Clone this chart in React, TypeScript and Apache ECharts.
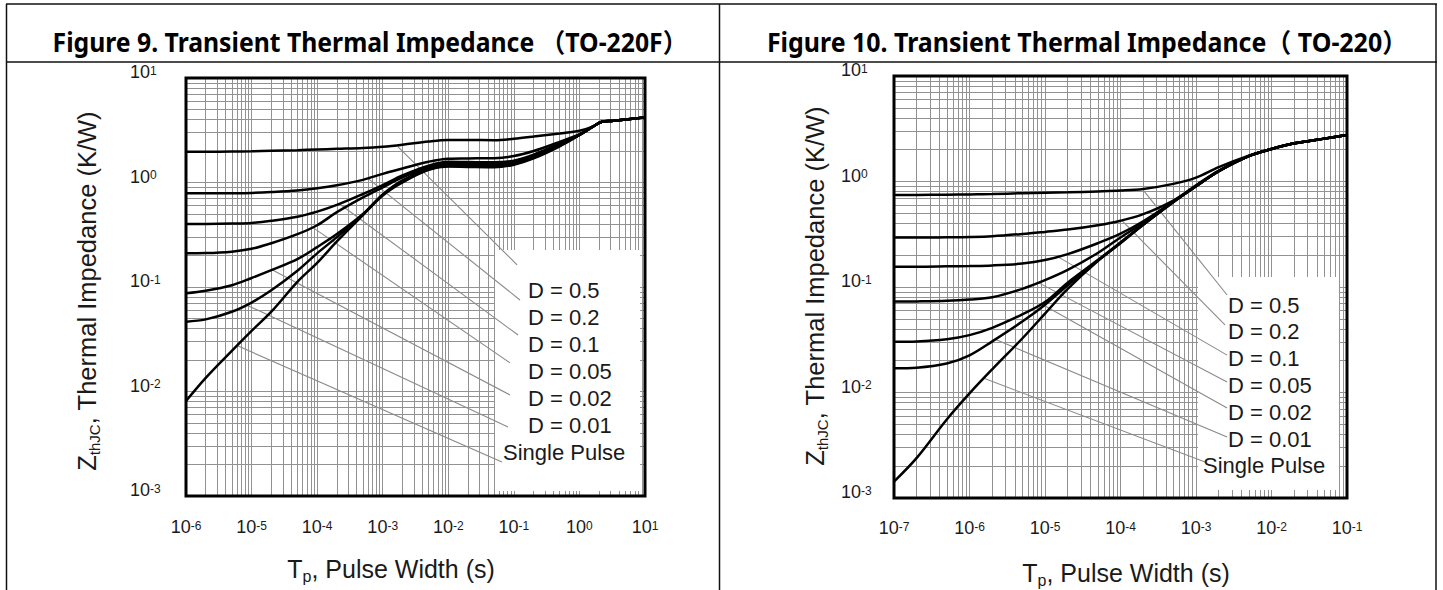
import React, { useEffect, useRef } from "react";
import * as echarts from "echarts";

// ===== Figure 9: Transient Thermal Impedance (TO-220F) =====
const tpLeft = [1e-6, 2e-6, 5e-6, 1e-5, 2e-5, 5e-5, 1e-4, 2e-4, 5e-4, 1e-3, 2e-3, 5e-3, 1e-2, 2e-2, 5e-2, 1e-1, 2e-1, 5e-1, 1, 1.6, 2.2, 3.3, 10];
const zthLeftD05 = [1.97, 1.97, 1.98, 1.99, 2.01, 2.04, 2.07, 2.1, 2.14, 2.2, 2.3, 2.47, 2.55, 2.55, 2.54, 2.62, 2.75, 2.95, 3.13, 3.42, 3.82, 3.9, 4.2];
const zthLeftD02 = [0.787, 0.788, 0.79, 0.795, 0.81, 0.84, 0.88, 0.94, 1.06, 1.21, 1.36, 1.58, 1.69, 1.7, 1.71, 1.79, 2.0, 2.45, 2.91, 3.42, 3.82, 3.9, 4.2];
const zthLeftD01 = [0.4, 0.401, 0.405, 0.41, 0.43, 0.47, 0.526, 0.61, 0.776, 0.946, 1.17, 1.45, 1.58, 1.57, 1.56, 1.62, 1.85, 2.35, 2.85, 3.42, 3.82, 3.9, 4.2];
const zthLeftD005 = [0.21, 0.211, 0.218, 0.232, 0.262, 0.32, 0.39, 0.52, 0.72, 0.9, 1.12, 1.4, 1.52, 1.51, 1.5, 1.56, 1.8, 2.3, 2.85, 3.42, 3.82, 3.9, 4.2];
const zthLeftD002 = [0.087, 0.092, 0.104, 0.122, 0.145, 0.185, 0.241, 0.321, 0.5, 0.77, 1.05, 1.35, 1.47, 1.46, 1.46, 1.53, 1.75, 2.28, 2.85, 3.42, 3.82, 3.9, 4.2];
const zthLeftD001 = [0.0466, 0.049, 0.058, 0.071, 0.093, 0.143, 0.21, 0.3, 0.495, 0.76, 1.03, 1.33, 1.44, 1.43, 1.43, 1.5, 1.72, 2.25, 2.85, 3.42, 3.82, 3.9, 4.2];
const zthLeftSingle = [0.0081, 0.0135, 0.0245, 0.038, 0.058, 0.112, 0.17, 0.273, 0.488, 0.75, 1.0, 1.32, 1.42, 1.41, 1.4, 1.48, 1.7, 2.22, 2.85, 3.42, 3.82, 3.9, 4.2];
// leader lines: [from curve point] -> [to label]  (t, Zth)
const leadersLeft = [
  [[1.7e-3, 2.2], [0.112, 0.163]],
  [[6e-4, 1.09], [0.124, 0.0751]],
  [[2.23e-4, 0.62], [0.116, 0.0347]],
  [[8.65e-5, 0.37], [0.0873, 0.0188]],
  [[2.05e-5, 0.146], [0.0873, 0.00927]],
  [[8.5e-6, 0.067], [0.0815, 0.00457]],
  [[6e-6, 0.0275], [0.0659, 0.00211]],
];
const xRangeLeft = [1e-6, 10];

// ===== Figure 10: Transient Thermal Impedance (TO-220) =====
const tpRight = [1e-7, 2e-7, 5e-7, 1e-6, 2e-6, 5e-6, 1e-5, 2e-5, 5e-5, 1e-4, 2e-4, 5e-4, 1e-3, 2e-3, 5e-3, 1e-2, 2e-2, 5e-2, 1e-1];
const zthRightD05 = [0.745, 0.746, 0.75, 0.755, 0.76, 0.775, 0.784, 0.79, 0.805, 0.82, 0.85, 0.95, 1.09, 1.37, 1.76, 2.03, 2.3, 2.55, 2.76];
const zthRightD02 = [0.294, 0.294, 0.296, 0.298, 0.303, 0.318, 0.333, 0.35, 0.385, 0.425, 0.49, 0.66, 0.92, 1.27, 1.74, 2.03, 2.3, 2.55, 2.76];
const zthRightD01 = [0.156, 0.156, 0.157, 0.158, 0.16, 0.167, 0.18, 0.205, 0.26, 0.32, 0.42, 0.645, 0.905, 1.255, 1.74, 2.03, 2.3, 2.55, 2.76];
const zthRightD005 = [0.0727, 0.073, 0.074, 0.076, 0.08, 0.096, 0.116, 0.145, 0.21, 0.295, 0.405, 0.642, 0.9, 1.25, 1.74, 2.03, 2.3, 2.55, 2.76];
const zthRightD002 = [0.0303, 0.0305, 0.032, 0.035, 0.041, 0.055, 0.072, 0.11, 0.18, 0.265, 0.392, 0.64, 0.9, 1.25, 1.74, 2.03, 2.3, 2.55, 2.76];
const zthRightD001 = [0.017, 0.0172, 0.0188, 0.0225, 0.0305, 0.047, 0.068, 0.104, 0.178, 0.262, 0.39, 0.64, 0.9, 1.25, 1.74, 2.03, 2.3, 2.55, 2.76];
const zthRightSingle = [0.00143, 0.0024, 0.00555, 0.0098, 0.0166, 0.0325, 0.056, 0.096, 0.176, 0.26, 0.388, 0.635, 0.9, 1.25, 1.74, 2.03, 2.3, 2.55, 2.76];
const leadersRight = [
  [[2.0e-4, 0.83], [2.58e-3, 0.084]],
  [[1.04e-4, 0.428], [2.42e-3, 0.0437]],
  [[1.49e-5, 0.193], [2.58e-3, 0.0226]],
  [[8.15e-6, 0.11], [2.58e-3, 0.0126]],
  [[9e-6, 0.069], [2.58e-3, 0.00713]],
  [[2.18e-6, 0.032], [2.58e-3, 0.00379]],
  [[1.52e-6, 0.0137], [1.32e-3, 0.00219]],
];
const xRangeRight = [1e-7, 1e-1];

const yRange = [1e-3, 10];
const curveLabels = ["D = 0.5", "D = 0.2", "D = 0.1", "D = 0.05", "D = 0.02", "D = 0.01", "Single Pulse"];
const titleLeft = "Figure 9. Transient Thermal Impedance （TO-220F）";
const titleRight = "Figure 10. Transient Thermal Impedance（ TO-220）";
const xAxisTitle = "{a|T}{p|p}{a|, Pulse Width (s)}";
const yAxisTitle = "{a|Z}{s|thJC}{a|, Thermal Impedance (K/W)}";

// ===== layout / style =====
const FONT = "'Liberation Sans', Arial, Helvetica, sans-serif";
const TITLE_FONT = "'Noto Sans', 'Noto Sans CJK SC', sans-serif";
const GRID_L = { left: 186, top: 78, width: 459, height: 418 };
const GRID_R = { left: 894, top: 76, width: 453, height: 422 };
const TEXT = "#1a1a1a";

function logGridValues(min: number, max: number) {
  const out: number[] = [];
  const k0 = Math.round(Math.log10(min));
  const k1 = Math.round(Math.log10(max));
  for (let k = k0; k < k1; k++) {
    for (let m = 1; m <= 9; m++) out.push(m * Math.pow(10, k));
  }
  out.push(max);
  return out;
}

const pow10Label = (v: number) => {
  const e = Math.round(Math.log10(v));
  return `{b|10}{s|${e}}`;
};

const labelRich = {
  b: { fontSize: 18, fontFamily: FONT, color: TEXT, lineHeight: 22 },
  s: { fontSize: 12, fontFamily: FONT, color: TEXT, padding: [0, 0, 3, 0] },
};

function makeXAxis(idx: number, range: number[], margin: number) {
  return {
    type: "log",
    logBase: 10,
    gridIndex: idx,
    min: range[0],
    max: range[1],
    axisLine: { show: false },
    axisTick: { show: false },
    splitLine: { show: false },
    axisLabel: {
      margin,
      formatter: pow10Label,
      rich: labelRich,
      fontSize: 18,
      fontFamily: FONT,
      color: TEXT,
      showMinLabel: true,
      showMaxLabel: true,
    },
  };
}
function makeYAxis(idx: number, margin: number) {
  return {
    type: "log",
    logBase: 10,
    gridIndex: idx,
    min: yRange[0],
    max: yRange[1],
    axisLine: { show: false },
    axisTick: { show: false },
    splitLine: { show: false },
    axisLabel: {
      margin,
      align: "left",
      padding: [0, 0, 12, 0],
      formatter: pow10Label,
      rich: labelRich,
      fontSize: 18,
      fontFamily: FONT,
      color: TEXT,
      showMinLabel: true,
      showMaxLabel: true,
    },
  };
}

function makeCurves(t: number[], zs: number[][], idx: number, xr: number[]) {
  const xs = logGridValues(xr[0], xr[1]);
  const ys = logGridValues(yRange[0], yRange[1]);
  return zs.map((z, i) => {
    const s: any = {
      type: "line",
      name: curveLabels[i] + (idx ? " R" : " L"),
      xAxisIndex: idx,
      yAxisIndex: idx,
      data: t.map((x, j) => [x, z[j]]),
      symbol: "none",
      showSymbol: false,
      smooth: 0.35,
      lineStyle: { color: "#000", width: 2.5 },
      z: 10,
      silent: true,
      emphasis: { disabled: true },
    };
    if (i === 0) {
      s.markLine = {
        silent: true,
        precision: 15,
        symbol: ["none", "none"],
        label: { show: false },
        emphasis: { disabled: true },
        lineStyle: { color: "#929292", width: 1, type: "solid" },
        animation: false,
        data: [...xs.map((v) => ({ xAxis: v })), ...ys.map((v) => ({ yAxis: v }))],
      };
    }
    return s;
  });
}

function makeLeaders(leaders: number[][][], idx: number) {
  return {
    type: "lines",
    coordinateSystem: "cartesian2d",
    xAxisIndex: idx,
    yAxisIndex: idx,
    data: leaders.map((c) => ({ coords: c })),
    lineStyle: { color: "#8a8a8a", width: 1.1, opacity: 1, curveness: 0 },
    effect: { show: false },
    z: 8,
    silent: true,
  };
}

export default function App() {
  const ref = useRef<HTMLDivElement>(null);
  useEffect(() => {
    if (!ref.current) return;
    const chart = echarts.init(ref.current, undefined, { renderer: "svg" });

    const TITLE_SIZE = 26;
    const ctx = document.createElement("canvas").getContext("2d");
    const measure = (s: string) => {
      if (!ctx) return 0;
      ctx.font = `bold ${TITLE_SIZE}px ${TITLE_FONT}`;
      return ctx.measureText(s).width;
    };
    const fit = (s: string, target: number) => {
      const w = measure(s);
      if (!w) return 1;
      return Math.max(0.75, Math.min(1.15, target / w));
    };

    const graphics: any[] = [];
    // table lines
    const lineStyle = { stroke: "#111", lineWidth: 1.5 };
    graphics.push({ type: "line", z: 20, shape: { x1: 6, y1: 4, x2: 1437, y2: 4 }, style: lineStyle });
    graphics.push({ type: "line", z: 20, shape: { x1: 6, y1: 62, x2: 1437, y2: 62 }, style: lineStyle });
    graphics.push({ type: "line", z: 20, shape: { x1: 6.5, y1: 4, x2: 6.5, y2: 590 }, style: lineStyle });
    graphics.push({ type: "line", z: 20, shape: { x1: 719.5, y1: 4, x2: 719.5, y2: 590 }, style: lineStyle });
    graphics.push({ type: "line", z: 20, shape: { x1: 1436, y1: 4, x2: 1436, y2: 590 }, style: lineStyle });
    // titles
    const titleStyle = (text: string) => ({
      text,
      fontSize: TITLE_SIZE,
      fontWeight: "bold",
      fontFamily: TITLE_FONT,
      fill: "#000",
      align: "center",
      verticalAlign: "middle",
    });
    graphics.push({ type: "text", z: 20, x: 370, y: 42, scaleX: fit(titleLeft, 635), style: titleStyle(titleLeft) });
    graphics.push({ type: "text", z: 20, x: 1087, y: 42, scaleX: fit(titleRight, 640), style: titleStyle(titleRight) });

    // axis titles
    const xTitleRich = {
      a: { fontSize: 25, fontFamily: FONT, fill: TEXT, lineHeight: 30 },
      p: { fontSize: 16, fontFamily: FONT, fill: TEXT, lineHeight: 20, verticalAlign: "bottom" },
    };
    const yTitleRich = {
      a: { fontSize: 25.5, fontFamily: FONT, fill: TEXT, lineHeight: 30 },
      s: { fontSize: 15, fontFamily: FONT, fill: TEXT, lineHeight: 17, verticalAlign: "bottom" },
    };
    graphics.push({ type: "text", z: 20, x: 391, y: 569, style: { text: xAxisTitle, rich: xTitleRich, align: "center", verticalAlign: "middle", fill: TEXT } });
    graphics.push({ type: "text", z: 20, x: 1126, y: 573, style: { text: xAxisTitle, rich: xTitleRich, align: "center", verticalAlign: "middle", fill: TEXT } });
    graphics.push({ type: "text", z: 20, x: 87, y: 291, rotation: Math.PI / 2, style: { text: yAxisTitle, rich: yTitleRich, align: "center", verticalAlign: "middle", fill: TEXT } });
    graphics.push({ type: "text", z: 20, x: 815, y: 286, rotation: Math.PI / 2, style: { text: yAxisTitle, rich: yTitleRich, align: "center", verticalAlign: "middle", fill: TEXT } });

    // legend boxes (white, covering grid)
    graphics.push({ type: "rect", z: 6, shape: { x: 495, y: 250, width: 145, height: 241 }, style: { fill: "#fff" } });
    graphics.push({ type: "rect", z: 6, shape: { x: 1198, y: 277, width: 141, height: 213 }, style: { fill: "#fff" } });

    // legend labels
    const legYL = [290, 317, 344, 371, 398, 425, 452];
    const legYR = [305, 331, 358, 385, 412, 439, 465];
    curveLabels.forEach((lab, i) => {
      const single = i === curveLabels.length - 1;
      graphics.push({
        type: "text", z: 9, x: single ? 503 : 528, y: legYL[i],
        style: { text: lab, fontSize: 22, fontFamily: FONT, fill: TEXT, align: "left", verticalAlign: "middle" },
      });
      graphics.push({
        type: "text", z: 9, x: single ? 1203 : 1228, y: legYR[i],
        style: { text: lab, fontSize: 22, fontFamily: FONT, fill: TEXT, align: "left", verticalAlign: "middle" },
      });
    });

    // plot frames
    graphics.push({ type: "rect", z: 20, shape: { x: GRID_L.left, y: GRID_L.top, width: GRID_L.width, height: GRID_L.height }, style: { fill: "none", stroke: "#000", lineWidth: 3 } });
    graphics.push({ type: "rect", z: 20, shape: { x: GRID_R.left, y: GRID_R.top, width: GRID_R.width, height: GRID_R.height }, style: { fill: "none", stroke: "#000", lineWidth: 3 } });

    const option: any = {
      animation: false,
      backgroundColor: "#fff",
      grid: [
        { ...GRID_L, containLabel: false },
        { ...GRID_R, containLabel: false },
      ],
      xAxis: [makeXAxis(0, xRangeLeft, 20), makeXAxis(1, xRangeRight, 19)],
      yAxis: [makeYAxis(0, 56), makeYAxis(1, 53)],
      series: [
        ...makeCurves(tpLeft, [zthLeftD05, zthLeftD02, zthLeftD01, zthLeftD005, zthLeftD002, zthLeftD001, zthLeftSingle], 0, xRangeLeft),
        ...makeCurves(tpRight, [zthRightD05, zthRightD02, zthRightD01, zthRightD005, zthRightD002, zthRightD001, zthRightSingle], 1, xRangeRight),
        makeLeaders(leadersLeft, 0),
        makeLeaders(leadersRight, 1),
      ],
      graphic: { elements: graphics },
    };
    chart.setOption(option);
    return () => chart.dispose();
  }, []);
  return <div ref={ref} style={{ position: "fixed", left: 0, top: 0, width: 1443, height: 590, background: "#fff" }} />;
}
